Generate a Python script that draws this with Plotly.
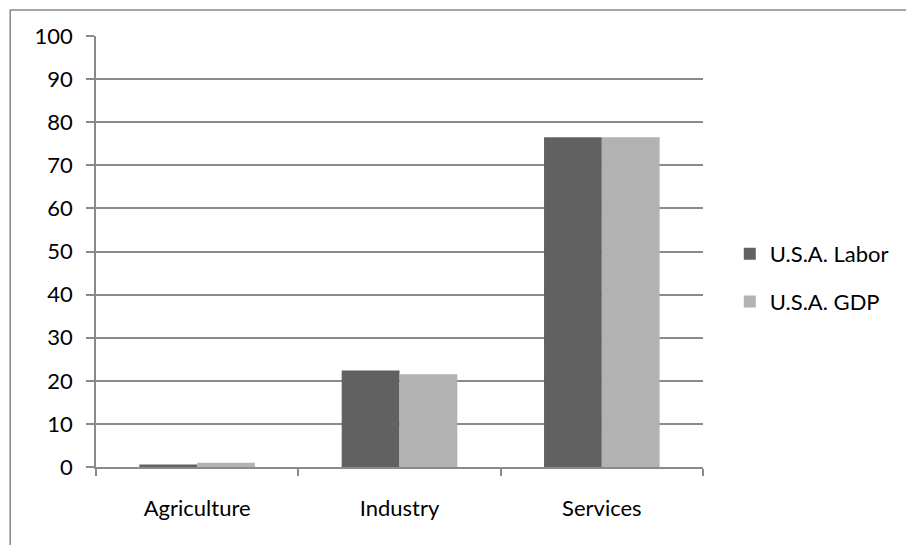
import plotly.graph_objects as go

categories = ["Agriculture", "Industry", "Services"]
labor = [0.6, 22.4, 76.5]
gdp = [1.0, 21.5, 76.5]
series_names = ["U.S.A. Labor", "U.S.A. GDP"]
y_ticks = list(range(0, 101, 10))

FONT = "Lato"
GRID = "#8a8a8a"

fig = go.Figure()
fig.add_trace(go.Bar(x=categories, y=labor, name=series_names[0],
                     marker=dict(color="#616161", line=dict(width=0)),
                     legendgroup="a"))
fig.add_trace(go.Bar(x=categories, y=gdp, name=series_names[1],
                     marker=dict(color="#b2b2b2", line=dict(width=0)),
                     legendgroup="b"))

W, H = 906, 545
L, R, T, B = 96, 198, 36, 78
pw = W - L - R
ph = H - T - B

fig.update_layout(
    width=W, height=H,
    margin=dict(l=L, r=R, t=T, b=B),
    paper_bgcolor="white", plot_bgcolor="white",
    barmode="group", bargap=0.4286, bargroupgap=0,
    font=dict(family=FONT, size=22, color="black"),
    showlegend=True,
    legend=dict(x=(735 - L) / pw, xanchor="left", y=(T + ph - 278) / ph, yanchor="middle",
                traceorder="grouped", tracegroupgap=16,
                font=dict(family=FONT, size=22, color="black"),
                bgcolor="rgba(0,0,0,0)", itemwidth=30),
    xaxis=dict(type="category", showline=True, linecolor=GRID, linewidth=1.5,
               ticks="outside", tickson="boundaries", ticklen=7, tickcolor=GRID, tickwidth=1.5,
               showgrid=False, ticklabelstandoff=21),
    yaxis=dict(range=[0, 100], tickvals=y_ticks, showline=True, linecolor=GRID, linewidth=1.5,
               ticks="outside", ticklen=8, tickcolor=GRID, tickwidth=1.5,
               showgrid=True, gridcolor=GRID, gridwidth=1.5, zeroline=False,
               ticklabelstandoff=9),
)

# chart border (cropped at right/bottom in the reference)
fig.add_shape(type="rect", xref="paper", yref="paper",
              x0=(9.5 - L) / pw, x1=(W + 10 - L) / pw,
              y0=-(H + 10 - (T + ph)) / ph, y1=(T + ph - 10) / ph,
              line=dict(color="#888888", width=1.5), fillcolor="rgba(0,0,0,0)", layer="below")

fig.write_html("out.html")
